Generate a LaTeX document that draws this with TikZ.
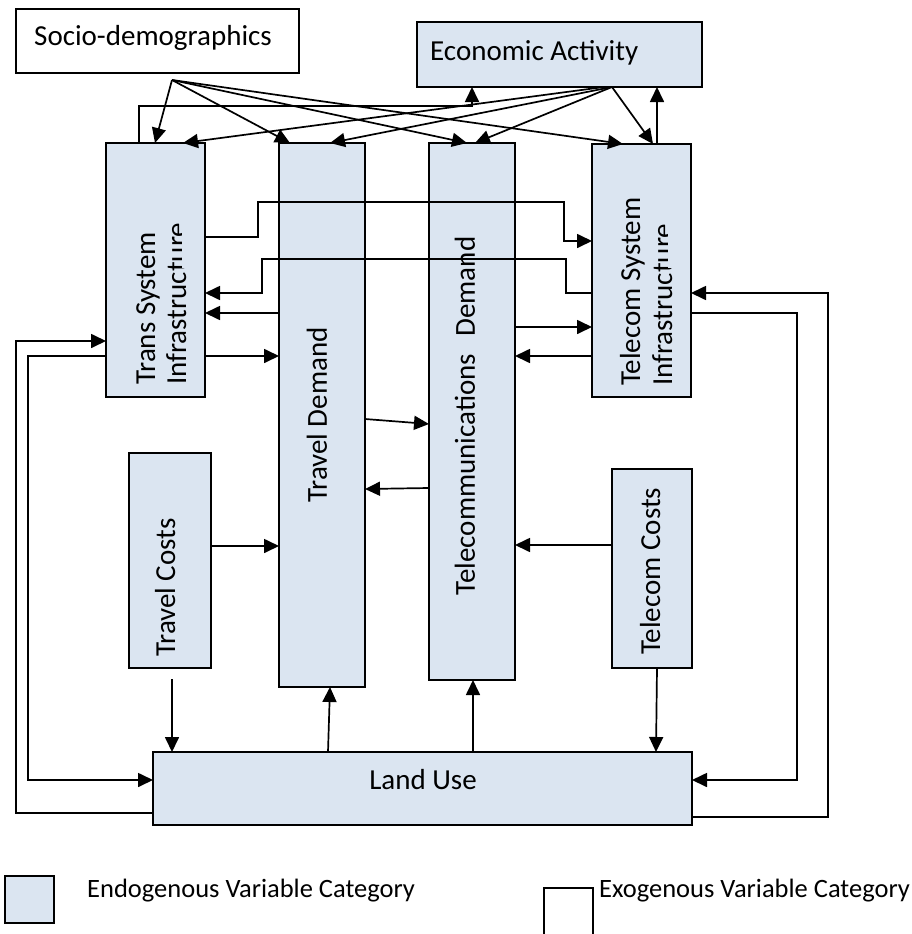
\documentclass[tikz,border=0pt]{standalone}
\usepackage{fontspec}
\setmainfont{Carlito}
\usetikzlibrary{arrows.meta}
\definecolor{endofill}{RGB}{219,229,241}
\begin{document}
\begin{tikzpicture}[x=1pt,y=-1pt,
  box/.style={draw, line width=1.9pt, fill=endofill, inner sep=0pt, outer sep=0pt, anchor=north west},
  exo/.style={draw, line width=1.9pt, fill=white, inner sep=0pt, outer sep=0pt, anchor=north west},
  con/.style={line width=1.7pt, -{Triangle[length=15pt,width=14pt]}},
  lbl/.style={font=\fontsize{29}{31}\selectfont, inner sep=0pt},
  vlbl/.style={lbl, rotate=90, anchor=base west},
  lgd/.style={font=\fontsize{26.5}{28}\selectfont, inner sep=0pt, anchor=base west},
]
\useasboundingbox (0,0) rectangle (911,934);

% boxes
\node[exo, minimum width=283, minimum height=64] (socio) at (16,9) {};
\node[box, minimum width=285, minimum height=65] (econ) at (417,22) {};
\node[box, minimum width=99, minimum height=254] (trans) at (106,143) {};
\node[box, minimum width=86, minimum height=544] (travel) at (279,143) {};
\node[box, minimum width=86, minimum height=537] (tcdem) at (429,143) {};
\node[box, minimum width=99, minimum height=253] (tcsys) at (592,144) {};
\node[box, minimum width=82, minimum height=215] (tcost) at (129,453) {};
\node[box, minimum width=80, minimum height=199] (tccost) at (612,469) {};
\node[box, minimum width=539, minimum height=73] (land) at (153,752) {};
\node[box, minimum width=49, minimum height=47] (legendo) at (5,876) {};
\draw[line width=1.9pt] (544,934) -- (544,888) -- (593,888) -- (593,934);

% labels
\node[lbl, anchor=base] (tsocio) at (153,46) {Socio-demographics};
\node[lbl, anchor=base west] (tecon) at (430,60) {Economic Activity};
\node[vlbl] (ttrans1) at (155,385) {Trans System};
\begin{scope}
  \clip (106,143) -- (181,143) -- (181,268) -- (205,268) -- (205,397) -- (106,397) -- cycle;
  \node[vlbl] (ttrans2) at (186,385) {Infrastructure};
\end{scope}
\node[vlbl] (ttcsys1) at (640,386) {Telecom System};
\begin{scope}
  \clip (592,144) -- (667,144) -- (667,268) -- (691,268) -- (691,397) -- (592,397) -- cycle;
  \node[vlbl] (ttcsys2) at (672,386) {Infrastructure};
\end{scope}
\node[lbl, rotate=90] (ttravel) at (317,415) {Travel Demand};
\node[lbl, rotate=90] (ttcdem) at (465,416) {Telecommunications\hspace{0.6em}Demand};
\node[vlbl] (ttcost) at (175,657) {Travel Costs};
\node[vlbl] (ttccost) at (660,655) {Telecom Costs};
\node[lbl, anchor=base] (tland) at (423,789) {Land Use};
\node[lgd] (tendo) at (87,897) {Endogenous Variable Category};
\node[lgd] (texo) at (599,897) {Exogenous Variable Category};

% fan sources
\coordinate (sfan) at (172,80);
\coordinate (tcsrc) at (172,679);

% socio-demographics arrows
\draw[con] (sfan) -- (trans.north -| 155,0);
\draw[con] (sfan) -- (travel.north -| 290,0);
\draw[con] (sfan) -- (tcdem.north -| 467,0);
\draw[con] (sfan) -- (tcsys.north -| 623,0);
% economic activity arrows
\draw[con] (econ.south -| 604,0) -- (trans.north -| 183,0);
\draw[con] (econ.south -| 612,0) -- (travel.north -| 330,0);
\draw[con] (econ.south -| 612,0) -- (tcdem.north -| 475,0);
\draw[con] (econ.south -| 612,0) -- (tcsys.north -| 653,0);
\draw[con] (trans.north -| 139,0) -- (139,106) -- (472,106) -- (econ.south -| 472,0);
\draw[con] (tcsys.north -| 657,0) -- (econ.south -| 657,0);

% trans <-> telecom system
\draw[con] (trans.east |- 0,237) -- (258,237) -- (258,202) -- (564,202) -- (564,241) -- (tcsys.west |- 0,241);
\draw[con] (tcsys.west |- 0,293) -- (566,293) -- (566,259) -- (262,259) -- (262,293) -- (trans.east |- 0,293);

% trans <-> travel demand
\draw[con] (travel.west |- 0,313) -- (trans.east |- 0,313);
\draw[con] (trans.east |- 0,356) -- (travel.west |- 0,356);

% outer loops
\draw[con] (land.west |- 0,813) -- (16,813) -- (16,341) -- (trans.west |- 0,341);
\draw[con] (trans.west |- 0,356) -- (28,356) -- (28,780) -- (land.west |- 0,780);
\draw[con] (tcsys.east |- 0,313) -- (797,313) -- (797,780) -- (land.east |- 0,780);
\draw[con] (land.east |- 0,817) -- (828,817) -- (828,293) -- (tcsys.east |- 0,293);

% telecom demand <-> telecom system
\draw[con] (tcdem.east |- 0,327) -- (tcsys.west |- 0,327);
\draw[con] (tcsys.west |- 0,356) -- (tcdem.east |- 0,356);

% travel demand <-> telecom demand
\draw[con] (travel.east |- 0,419) -- (tcdem.west |- 0,424);
\draw[con] (tcdem.west |- 0,488) -- (travel.east |- 0,489);

% costs
\draw[con] (tcost.east |- 0,546) -- (travel.west |- 0,546);
\draw[con] (tccost.west |- 0,545) -- (tcdem.east |- 0,545);
\draw[con] (tcsrc) -- (land.north -| 172,0);
\draw[con] (tccost.south -| 657,0) -- (land.north -| 656,0);

% land use upwards
\draw[con] (land.north -| 328,0) -- (travel.south -| 330,0);
\draw[con] (land.north -| 473,0) -- (tcdem.south -| 473,0);
\end{tikzpicture}
\end{document}
